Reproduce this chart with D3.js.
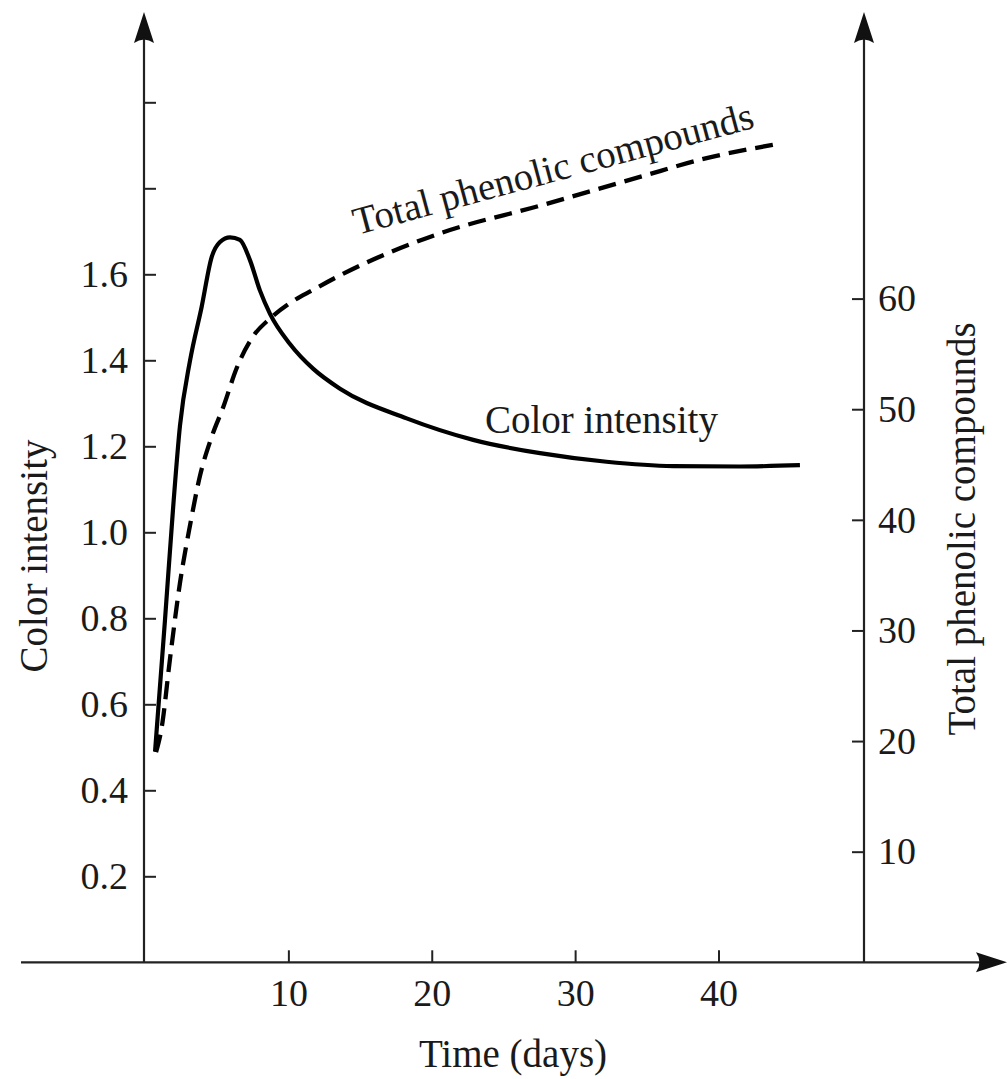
<!DOCTYPE html>
<html>
<head>
<meta charset="utf-8">
<script src="https://cdn.jsdelivr.net/npm/d3@7"></script>
<style>
  body { margin: 0; background: #fff; }
  svg { display: block; }
  text { font-family: "Liberation Serif", "Times New Roman", serif; fill: #1a1a1a; }
</style>
</head>
<body>
<div id="chart"></div>
<script>
// Color intensity (left axis, solid line)
const colorDays = [0.7, 1.39, 1.97, 2.44, 3.14, 3.95, 4.65, 5.23, 5.93, 6.62, 7.32, 8.02, 8.72,
                   10.11, 11.74, 13.6, 18.25, 22.89, 27.55, 32.19, 36.84, 41.49, 45.68];
const colorValues = [0.49, 0.794, 1.061, 1.248, 1.399, 1.524, 1.64, 1.675, 1.686, 1.68, 1.633, 1.562, 1.508,
                     1.438, 1.38, 1.334, 1.265, 1.215, 1.184, 1.164, 1.154, 1.153, 1.156];

// Total phenolic compounds (right axis, dashed line)
const phenolDays = [0.77, 1.16, 1.74, 2.44, 3.14, 3.84, 4.65, 5.46, 6.39, 7.55, 8.72,
                    10.11, 11.74, 13.6, 20.57, 27.55, 34.52, 39.17, 43.79];
const phenolValues = [19.0, 21.2, 27.4, 34.3, 39.5, 44.0, 47.5, 50.2, 53.7, 56.6, 58.2,
                      59.6, 60.8, 62.1, 65.9, 68.4, 71.0, 72.7, 73.9];

const xTicks = [10, 20, 30, 40];
const leftTicks = [0.2, 0.4, 0.6, 0.8, 1.0, 1.2, 1.4, 1.6, 1.8, 2.0];
const leftLabelMax = 1.6;
const rightTicks = [10, 20, 30, 40, 50, 60];

const width = 1008, height = 1079;
const axisColor = "#222";

const svg = d3.select("#chart").append("svg")
    .attr("width", width)
    .attr("height", height);

const xScale = d3.scaleLinear().domain([0, 40]).range([145, 718.5]);
const yLeft = d3.scaleLinear().domain([0, 1.6]).range([962.3, 274.3]);
const yRight = d3.scaleLinear().domain([0, 60]).range([962.3, 298.6]);

const xAxisY = yLeft(0);
const leftX = 144;
const rightX = 864;

// axis lines
svg.append("line")
    .attr("x1", 21).attr("x2", 995)
    .attr("y1", xAxisY).attr("y2", xAxisY)
    .attr("stroke", axisColor).attr("stroke-width", 2.2);
svg.append("line")
    .attr("x1", leftX).attr("x2", leftX)
    .attr("y1", xAxisY).attr("y2", 30)
    .attr("stroke", axisColor).attr("stroke-width", 2.2);
svg.append("line")
    .attr("x1", rightX).attr("x2", rightX)
    .attr("y1", xAxisY).attr("y2", 30)
    .attr("stroke", axisColor).attr("stroke-width", 2.2);

// arrow heads
function arrowUp(x, tipY) {
    return `M${x},${tipY} L${x + 10},${tipY + 31} Q${x},${tipY + 24} ${x - 10},${tipY + 31} Z`;
}
svg.append("path").attr("d", arrowUp(leftX, 12)).attr("fill", "#111");
svg.append("path").attr("d", arrowUp(rightX, 12)).attr("fill", "#111");
svg.append("path")
    .attr("d", `M1007,${xAxisY} L976,${xAxisY - 10} Q983,${xAxisY} 976,${xAxisY + 10} Z`)
    .attr("fill", "#111");

function styleAxis(g, size) {
    g.select(".domain").remove();
    g.selectAll(".tick line").attr("stroke", axisColor).attr("stroke-width", 2);
    g.selectAll(".tick text")
        .attr("fill", "#1a1a1a")
        .style("font-family", "'Liberation Serif', 'Times New Roman', serif")
        .style("font-size", size + "px");
}

// x axis, ticks pointing up
svg.append("g")
    .attr("transform", `translate(0,${xAxisY})`)
    .call(d3.axisBottom(xScale).tickValues(xTicks).tickSizeInner(-12).tickSizeOuter(0).tickPadding(17))
    .call(g => styleAxis(g, 38));

// left axis, ticks pointing inward
svg.append("g")
    .attr("transform", `translate(${leftX},0)`)
    .call(d3.axisLeft(yLeft).tickValues(leftTicks).tickSizeInner(-12).tickSizeOuter(0).tickPadding(16)
        .tickFormat(d => d <= leftLabelMax + 1e-9 ? d3.format(".1f")(d) : ""))
    .call(g => styleAxis(g, 38));

// right axis, ticks pointing inward
svg.append("g")
    .attr("transform", `translate(${rightX},0)`)
    .call(d3.axisRight(yRight).tickValues(rightTicks).tickSizeInner(-12).tickSizeOuter(0).tickPadding(14))
    .call(g => styleAxis(g, 38));

// curves
const colorData = colorDays.map((d, i) => ({day: d, v: colorValues[i]}));
const phenolData = phenolDays.map((d, i) => ({day: d, v: phenolValues[i]}));

const colorLine = d3.line()
    .x(d => xScale(d.day))
    .y(d => yLeft(d.v))
    .curve(d3.curveMonotoneX);

const phenolLine = d3.line()
    .x(d => xScale(d.day))
    .y(d => yRight(d.v))
    .curve(d3.curveMonotoneX);

svg.append("path")
    .datum(phenolData)
    .attr("d", phenolLine)
    .attr("fill", "none")
    .attr("stroke", "#000")
    .attr("stroke-width", 4.3)
    .attr("stroke-dasharray", "18,9");

svg.append("path")
    .datum(colorData)
    .attr("d", colorLine)
    .attr("fill", "none")
    .attr("stroke", "#000")
    .attr("stroke-width", 4.2)
    .attr("stroke-linejoin", "round");

// curve labels
svg.append("text")
    .attr("transform", "translate(357,235) rotate(-15.1)")
    .style("font-size", "39px")
    .text("Total phenolic compounds");

svg.append("text")
    .attr("x", 485).attr("y", 433)
    .style("font-size", "39px")
    .text("Color intensity");

// axis titles
svg.append("text")
    .attr("x", 513).attr("y", 1067)
    .attr("text-anchor", "middle")
    .style("font-size", "39px")
    .text("Time (days)");

svg.append("text")
    .attr("transform", "translate(47,556) rotate(-90)")
    .attr("text-anchor", "middle")
    .style("font-size", "39px")
    .text("Color intensity");

svg.append("text")
    .attr("transform", "translate(975,529) rotate(-90)")
    .attr("text-anchor", "middle")
    .style("font-size", "39px")
    .text("Total phenolic compounds");
</script>
</body>
</html>
